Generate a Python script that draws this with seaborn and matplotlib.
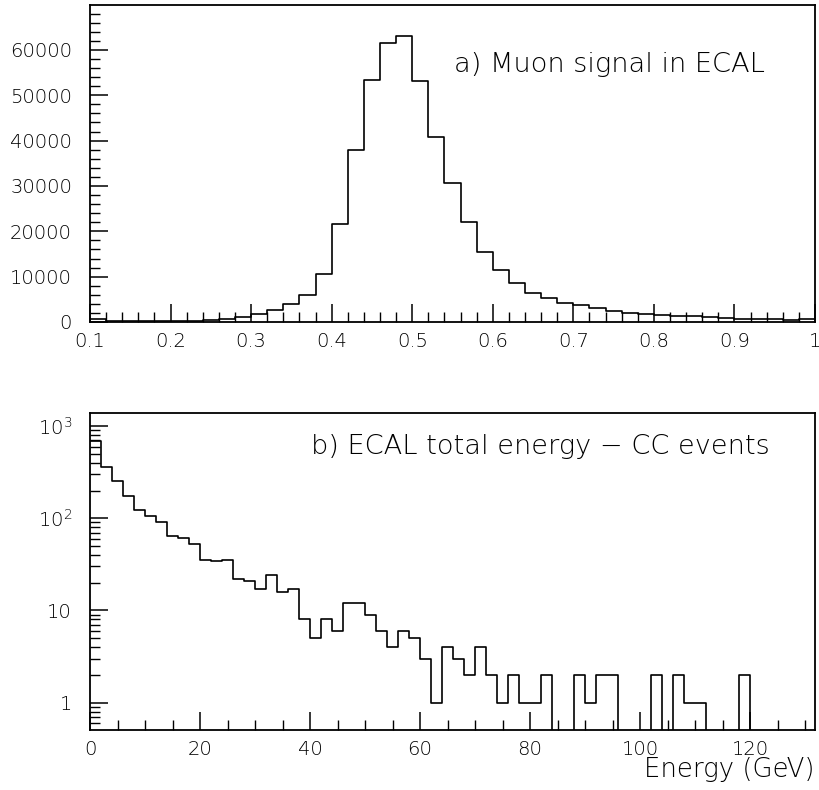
import numpy as np
import pandas as pd
import matplotlib
matplotlib.use("Agg")
import matplotlib.pyplot as plt
import matplotlib.ticker as mticker
import seaborn as sns

# ---------------- data ----------------
# a) Muon signal in ECAL : bins of 0.02 from 0.1 to 1.0
muon_edges = np.round(np.arange(0.10, 1.0001, 0.02), 2)
muon_counts = [600, 300, 300, 300, 300, 300, 300, 440, 730, 1030,
               1760, 2700, 3900, 5900, 10600, 21700, 37900, 53300, 61500, 63000,
               53200, 40700, 30600, 22100, 15400, 11500, 8700, 6500, 5400, 4190,
               3750, 3010, 2350, 2060, 1840, 1540, 1250, 1250, 1030, 960,
               740, 590, 590, 370, 590]

# b) ECAL total energy - CC events : bins of 2 GeV from 0 to 132
ecal_edges = np.arange(0, 132.001, 2)
ecal_counts = [693, 356, 251, 176, 124, 107, 90, 65, 61, 53,
               35, 34, 35, 22, 21, 17, 24, 16, 17, 8,
               5, 8, 6, 12, 12, 9, 6, 4, 6, 5,
               3, 1, 4, 3, 2, 4, 2, 1, 2, 1,
               1, 2, 0, 0, 2, 1, 2, 2, 0, 0,
               0, 2, 0, 2, 1, 1, 0, 0, 0, 2,
               0, 0, 0, 0, 0, 0]

title_a = "a) Muon signal in ECAL"
title_b = "b) ECAL total energy \u2212 CC events"
xlabel_b = "Energy (GeV)"

# ---------------- style ----------------
sns.set_style("ticks")
plt.rcParams["font.family"] = ["DejaVu Sans"]
plt.rcParams["font.weight"] = "light"
plt.rcParams["mathtext.fontset"] = "dejavusans"
plt.rcParams["axes.linewidth"] = 1.3
plt.rcParams["axes.edgecolor"] = "black"
plt.rcParams["text.color"] = "black"
plt.rcParams["axes.labelcolor"] = "black"
plt.rcParams["xtick.labelcolor"] = "black"
plt.rcParams["ytick.labelcolor"] = "black"

fig = plt.figure(figsize=(8.2, 7.9), dpi=100)
ax1 = fig.add_axes([90 / 820, 1 - 322 / 790, 725 / 820, 317 / 790])
ax2 = fig.add_axes([90 / 820, 1 - 730 / 790, 725 / 820, 317 / 790])

line_kw = dict(element="step", fill=False, color="black", linewidth=1.2)

# --- top panel ---
df_a = pd.DataFrame({
    "x": (muon_edges[:-1] + muon_edges[1:]) / 2,
    "w": np.asarray(muon_counts, dtype=float),
})
sns.histplot(data=df_a, x="x", weights="w", bins=list(muon_edges), ax=ax1, **line_kw)
ax1.set_xlim(0.1, 1.0)
ax1.set_ylim(0, 69900)
ax1.xaxis.set_major_locator(mticker.MultipleLocator(0.1))
ax1.xaxis.set_minor_locator(mticker.MultipleLocator(0.02))
ax1.yaxis.set_major_locator(mticker.MultipleLocator(10000))
ax1.yaxis.set_minor_locator(mticker.MultipleLocator(2000))
ax1.xaxis.set_major_formatter(mticker.FuncFormatter(lambda v, p: f"{v:g}"))
ax1.set_xlabel("")
ax1.set_ylabel("")
ax1.text(0.931, 0.811, title_a, transform=ax1.transAxes, ha="right", va="center",
         fontsize=19.6, fontweight="light")

# --- bottom panel ---
df_b = pd.DataFrame({
    "x": (ecal_edges[:-1] + ecal_edges[1:]) / 2,
    "w": [c if c > 0 else 1e-3 for c in ecal_counts],
})
sns.histplot(data=df_b, x="x", weights="w", bins=list(ecal_edges), ax=ax2, **line_kw)
ax2.set_yscale("log")
ax2.set_xlim(0, 131.8)
ax2.set_ylim(0.506, 1385)
ax2.xaxis.set_major_locator(mticker.MultipleLocator(20))
ax2.xaxis.set_minor_locator(mticker.MultipleLocator(5))
ax2.yaxis.set_major_locator(mticker.LogLocator(base=10, numticks=10))
ax2.yaxis.set_minor_locator(mticker.LogLocator(base=10, subs=np.arange(2, 10), numticks=20))
ax2.yaxis.set_minor_formatter(mticker.NullFormatter())


def logfmt(v, p):
    if v == 1:
        return "1"
    if v == 10:
        return "10"
    e = int(round(np.log10(v)))
    return r"$\mathregular{10^{%d}}$" % e


ax2.yaxis.set_major_formatter(mticker.FuncFormatter(logfmt))
ax2.set_ylabel("")
ax2.set_xlabel(xlabel_b, fontsize=18.7, fontweight="light", loc="right", labelpad=-1)
ax2.text(0.938, 0.893, title_b, transform=ax2.transAxes, ha="right", va="center",
         fontsize=19.6, fontweight="light")

for ax in (ax1, ax2):
    ax.tick_params(axis="both", which="major", direction="in", length=13, width=1.1,
                   labelsize=14, colors="black", labelcolor="black")
    ax.tick_params(axis="x", which="major", pad=7)
    ax.tick_params(axis="y", which="major", pad=13)
    ax.tick_params(axis="both", which="minor", direction="in", length=7, width=1.0,
                   colors="black")
    ax.tick_params(axis="y", which="both", right=False)
    ax.tick_params(axis="x", which="both", top=False)
    for s in ax.spines.values():
        s.set_visible(True)
        s.set_color("black")

fig.savefig("out.png", dpi=100)
